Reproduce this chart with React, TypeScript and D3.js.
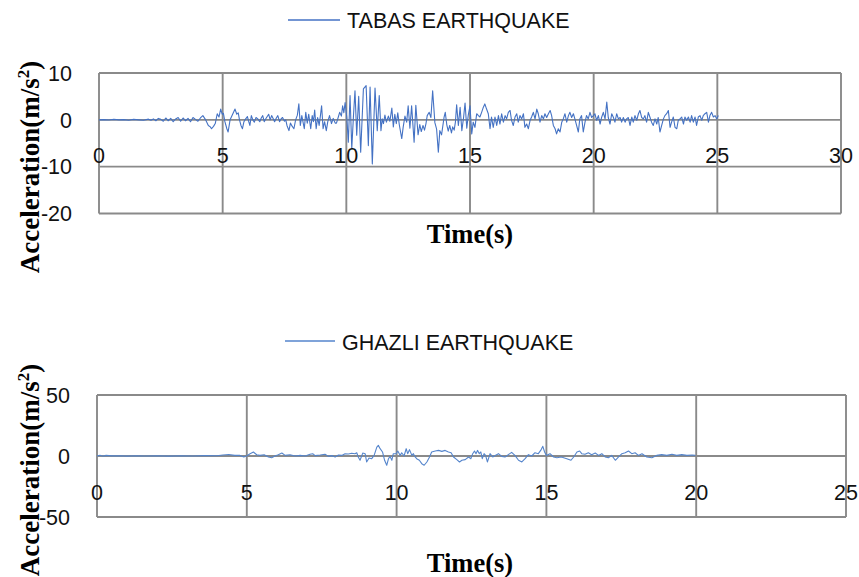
import React from "react";
import * as d3 from "d3";

// ---------- DATA ----------
const tabasLabel = "TABAS EARTHQUAKE";
const ghazliLabel = "GHAZLI EARTHQUAKE";

const tabasXTicks = [0, 5, 10, 15, 20, 25, 30];
const tabasYTicks = [10, 0, -10, -20];
const ghazliXTicks = [0, 5, 10, 15, 20, 25];
const ghazliYTicks = [50, 0, -50];

// [time (s), acceleration (m/s^2)]
const tabasSeries: [number, number][] = [
  [0,0],[0.2,0.05],[0.4,-0.05],[0.6,0.1],[0.8,0],[1.0,0.05],[1.2,-0.1],[1.4,0.1],[1.6,0],[1.8,-0.1],[2.0,0.15],
  [2.1,-0.1],[2.2,0.2],[2.3,-0.2],[2.4,0.3],[2.5,0.1],[2.6,-0.3],[2.7,0.4],[2.8,-0.2],[2.9,0.3],[3.0,-0.4],
  [3.1,0.2],[3.2,0.5],[3.3,-0.3],[3.4,0.4],[3.5,-0.2],[3.6,0.3],[3.7,-0.4],[3.8,0.5],[3.9,0.1],[4.0,-0.3],
  [4.1,0.4],[4.2,0.9],[4.3,0.1],[4.42,-1.2],[4.5,-1.5],[4.55,-1.9],[4.63,-1.4],[4.7,-0.8],[4.78,1.3],[4.85,0.6],
  [4.92,2.3],[4.98,1.2],[5.03,1.4],[5.09,-0.4],[5.17,-1.9],[5.22,-2.6],[5.3,0],[5.37,0.8],[5.44,1.6],[5.5,2.3],
  [5.57,1.2],[5.63,1.5],[5.68,0],[5.74,-1.2],[5.8,-1.9],[5.86,-0.4],[5.93,0.2],[6.0,0.7],[6.05,-0.3],[6.1,-1.2],
  [6.16,0.9],[6.22,0],[6.28,-0.5],[6.35,0.5],[6.42,0.2],[6.5,-0.4],[6.56,0.4],[6.62,0.9],[6.68,-0.4],[6.75,0.3],
  [6.86,1.2],[6.92,0],[6.98,0.9],[7.04,0.3],[7.1,-0.4],[7.17,0.4],[7.23,0.9],[7.3,-0.4],[7.36,0.2],[7.42,0.5],
  [7.5,-0.3],[7.55,0],[7.6,-1.2],[7.68,-2.3],[7.74,-0.7],[7.8,-1.3],[7.88,-1.9],[7.95,0],[8.02,1.0],[8.08,3.4],
  [8.14,-1.2],[8.2,0.9],[8.25,-0.5],[8.3,-1.9],[8.36,1.6],[8.42,-0.7],[8.48,1.2],[8.56,-1.9],[8.62,0.9],[8.67,-0.4],
  [8.72,2.1],[8.78,-1.9],[8.84,0.5],[8.9,-1.2],[8.95,0.8],[9.0,3.0],[9.06,-1.9],[9.12,-0.4],[9.19,-2.3],[9.25,-0.4],
  [9.32,0.9],[9.4,-0.8],[9.47,0.3],[9.55,-0.7],[9.6,-0.7],[9.67,0.5],[9.73,1.6],[9.8,0.8],[9.85,3.0],[9.9,1.5],
  [9.95,3.7],[10.02,0.5],[10.08,-4.8],[10.15,5.2],[10.22,-6.1],[10.29,1.0],[10.35,6.2],[10.42,-3.3],[10.5,5.0],
  [10.58,-6.9],[10.69,6.6],[10.8,7.3],[10.89,-5.5],[10.96,7.0],[11.05,-9.4],[11.16,6.8],[11.25,-2.3],[11.33,5.2],
  [11.4,-2.3],[11.45,0.2],[11.5,-0.8],[11.56,1.0],[11.62,-0.5],[11.7,0.8],[11.76,-0.3],[11.84,2.5],[11.9,-1.5],
  [11.96,1.2],[12.02,-0.8],[12.08,1.5],[12.14,-1.0],[12.24,-4.0],[12.3,-1.5],[12.37,0.8],[12.44,-0.5],[12.5,3.0],
  [12.57,-1.8],[12.64,3.0],[12.74,-4.8],[12.81,3.1],[12.9,-3.2],[12.97,-1.0],[13.03,-2.5],[13.1,-1.2],[13.16,-2.2],
  [13.22,-0.8],[13.27,0.9],[13.35,1.6],[13.42,0.5],[13.49,6.2],[13.58,-0.6],[13.65,-2.0],[13.72,-6.9],[13.78,-2.3],
  [13.85,-3.2],[13.95,0.5],[14.0,1.6],[14.06,-1.0],[14.12,-2.4],[14.18,-1.2],[14.25,-2.8],[14.3,-1.5],[14.36,-2.2],
  [14.41,-0.5],[14.46,3.2],[14.53,-1.2],[14.6,2.7],[14.67,-2.3],[14.74,0.5],[14.8,3.6],[14.87,-1.8],[14.93,1.0],
  [15.0,3.0],[15.07,-3.0],[15.13,-0.5],[15.2,-1.6],[15.27,1.3],[15.34,0.9],[15.4,0.6],[15.47,1.6],[15.54,2.7],
  [15.6,3.4],[15.67,2.3],[15.74,1.3],[15.81,-1.9],[15.87,0.6],[15.94,-1.6],[16.01,0.6],[16.08,-1.2],[16.15,0.9],
  [16.21,-0.9],[16.28,1.3],[16.35,-0.5],[16.42,0.9],[16.48,0.2],[16.55,1.6],[16.62,2.0],[16.68,-0.1],[16.75,-1.2],
  [16.82,0.6],[16.89,1.3],[16.95,-0.5],[17.02,0.9],[17.09,0.2],[17.16,1.3],[17.22,-1.6],[17.29,-0.9],[17.36,-1.9],
  [17.43,-0.1],[17.49,0.6],[17.56,1.6],[17.63,0.2],[17.7,2.3],[17.76,1.3],[17.83,-0.5],[17.9,0.9],[17.97,0.2],
  [18.03,1.3],[18.1,0.5],[18.17,1.3],[18.24,2.0],[18.3,0.9],[18.37,-1.2],[18.44,-1.9],[18.5,-3.0],[18.57,-1.9],
  [18.64,-2.6],[18.71,-0.5],[18.77,0.2],[18.84,1.3],[18.91,-0.5],[18.98,0.9],[19.04,1.6],[19.11,0.5],[19.18,1.3],
  [19.24,0.2],[19.31,-1.2],[19.38,-2.6],[19.44,0.2],[19.51,0.9],[19.58,-2.6],[19.65,-0.5],[19.71,0.9],[19.78,0.2],
  [19.85,1.6],[19.92,0.5],[19.99,0.9],[20.05,1.3],[20.12,-0.1],[20.19,0.9],[20.26,-0.9],[20.32,0.5],[20.39,1.6],
  [20.46,0.2],[20.53,3.8],[20.59,0.5],[20.66,-0.9],[20.73,1.3],[20.8,0.5],[20.86,-0.5],[20.93,1.3],[21.0,0.2],
  [21.07,0.5],[21.13,-0.5],[21.2,0.5],[21.27,-0.5],[21.33,0.2],[21.4,0.5],[21.47,-1.2],[21.54,0.6],[21.6,-0.5],
  [21.67,0.9],[21.74,-0.1],[21.81,1.3],[21.87,2.0],[21.94,0.5],[22.01,0.2],[22.07,0.9],[22.14,-0.5],[22.21,1.6],
  [22.28,0.5],[22.34,-0.5],[22.41,-1.2],[22.48,0.2],[22.55,-0.9],[22.61,0.5],[22.68,-2.6],[22.75,-1.2],[22.82,0.2],
  [22.88,0.9],[22.95,1.3],[23.02,2.0],[23.09,-1.6],[23.15,-0.5],[23.22,0.6],[23.29,-1.6],[23.36,-1.9],[23.42,-0.1],
  [23.49,0.2],[23.56,0.6],[23.63,-0.9],[23.69,0.6],[23.76,-0.1],[23.83,0.6],[23.9,-0.5],[23.96,0.9],[24.03,-0.5],
  [24.1,0.6],[24.16,-1.2],[24.23,0.6],[24.3,0.9],[24.37,-0.1],[24.43,0.9],[24.5,1.3],[24.57,1.6],[24.64,-0.5],
  [24.7,0.9],[24.77,1.6],[24.84,0.6],[24.91,0.9],[24.97,0.2],[25.04,0.9]
];

const ghazliSeries: [number, number][] = [
  [0,0],[0.1,0.6],[0.2,-0.2],[0.3,0.5],[0.5,0.1],[0.8,0.2],[1.0,-0.1],[1.3,0.2],[1.6,0],[2.0,0.2],[2.4,-0.1],
  [2.8,0.2],[3.2,0],[3.6,0.3],[4.0,0.2],[4.2,0.8],[4.4,1.2],[4.6,0.5],[4.77,0.5],[4.9,-0.8],[5.0,0.2],[5.11,1.9],
  [5.22,3.3],[5.33,1.0],[5.44,0.5],[5.58,1.0],[5.72,-0.8],[5.83,-1.4],[5.94,0],[6.05,1.0],[6.17,2.4],[6.28,0.5],
  [6.44,1.0],[6.61,0],[6.78,0.5],[6.95,0],[7.11,1.4],[7.2,1.9],[7.28,0.3],[7.45,0.8],[7.61,1.4],[7.73,-0.3],
  [7.84,0.3],[7.95,-0.8],[8.06,0.8],[8.17,0.5],[8.28,1.9],[8.39,1.6],[8.5,2.2],[8.61,1.9],[8.67,2.7],[8.72,-0.8],
  [8.78,-3.5],[8.87,2.4],[8.95,1.9],[9.0,-4.9],[9.08,-1.6],[9.17,-2.2],[9.25,0.5],[9.34,7.3],[9.39,8.7],[9.45,6.0],
  [9.53,3.3],[9.6,-3.5],[9.67,-7.6],[9.73,-2.2],[9.78,-0.3],[9.84,-3.5],[9.89,1.9],[9.98,1.9],[10.04,4.1],
  [10.12,0.5],[10.17,2.7],[10.25,0],[10.32,6.0],[10.37,1.9],[10.43,5.2],[10.51,0.5],[10.56,1.9],[10.62,-0.8],
  [10.67,-2.2],[10.76,-3.5],[10.84,-6.3],[10.92,-7.6],[11.01,-4.9],[11.1,-0.8],[11.17,3.3],[11.29,4.1],[11.4,4.6],
  [11.51,3.8],[11.62,4.6],[11.73,3.3],[11.82,2.7],[11.9,-0.8],[12.01,-3.0],[12.1,-4.9],[12.18,-3.5],[12.29,-3.0],
  [12.4,-0.8],[12.48,-2.2],[12.54,1.9],[12.6,4.1],[12.65,1.9],[12.7,4.6],[12.76,1.9],[12.81,3.3],[12.86,-2.2],
  [12.92,1.9],[12.97,0.5],[13.03,-4.9],[13.12,1.9],[13.21,-0.8],[13.29,0.5],[13.4,1.9],[13.51,-0.3],[13.62,-0.8],
  [13.73,1.1],[13.84,3.0],[13.95,0.5],[14.07,-3.5],[14.18,-4.9],[14.29,-2.2],[14.4,1.1],[14.51,0],[14.62,2.7],
  [14.73,1.9],[14.81,4.6],[14.88,7.9],[14.94,3.3],[15.0,0.5],[15.12,1.9],[15.24,-0.8],[15.35,-1.4],[15.5,-0.8],
  [15.68,-2.2],[15.82,-3.5],[15.91,-0.8],[16.02,3.3],[16.11,4.1],[16.18,1.9],[16.29,1.4],[16.4,2.7],[16.51,1.1],
  [16.63,2.4],[16.74,0.5],[16.85,1.9],[16.96,-0.8],[17.07,-1.4],[17.18,0.5],[17.3,-3.5],[17.41,-0.8],[17.52,1.9],
  [17.63,2.7],[17.74,4.1],[17.85,1.9],[17.96,2.7],[18.07,0.5],[18.19,1.9],[18.35,-0.8],[18.52,-1.4],[18.68,0.5],
  [18.85,1.1],[19.02,0.5],[19.19,1.4],[19.35,0.5],[19.52,1.1],[19.69,0.5],[19.86,0.8],[19.97,0.5]
];

// ---------- STYLE ----------
const GRID = "#8a8a8a";
const SANS = "'Liberation Sans', Arial, sans-serif";
const SERIF = "'Liberation Serif', 'Times New Roman', serif";

type ChartProps = {
  series: [number, number][];
  label: string;
  color: string;
  xTicks: number[];
  yTicks: number[];
  left: number; right: number; top: number; bottom: number;
  legendLine: [number, number, number];
  legendText: [number, number];
  xLabelBaseline: number;
  yTitleY: number;
  xTitleY: number;
};

function Chart(p: ChartProps) {
  const xs = d3.scaleLinear()
    .domain([d3.min(p.xTicks)!, d3.max(p.xTicks)!])
    .range([p.left, p.right]);
  const ys = d3.scaleLinear()
    .domain([d3.min(p.yTicks)!, d3.max(p.yTicks)!])
    .range([p.bottom, p.top]);
  const line = d3.line<[number, number]>()
    .x(d => xs(d[0]))
    .y(d => ys(d[1]));
  return (
    <g>
      {/* legend */}
      <line x1={p.legendLine[0]} x2={p.legendLine[1]} y1={p.legendLine[2]} y2={p.legendLine[2]}
        stroke={p.color} strokeWidth={1.3} />
      <text x={p.legendText[0]} y={p.legendText[1]} fontFamily={SANS} fontSize={21.5} fill="#111">{p.label}</text>
      {/* grid */}
      {p.yTicks.map(t => (
        <line key={"h" + t} x1={p.left} x2={p.right} y1={ys(t)} y2={ys(t)} stroke={GRID} strokeWidth={1.9} />
      ))}
      {p.xTicks.map(t => (
        <line key={"v" + t} x1={xs(t)} x2={xs(t)} y1={p.top} y2={p.bottom} stroke={GRID} strokeWidth={1.9} />
      ))}
      {/* series */}
      <path d={line(p.series) || ""} fill="none" stroke={p.color} strokeWidth={1.1} strokeLinejoin="round" />
      {/* tick labels */}
      {p.yTicks.map(t => (
        <text key={"yl" + t} x={p.left - 27} y={ys(t)} dy="0.36em" textAnchor="end"
          fontFamily={SANS} fontSize={21.5} fill="#111">{t}</text>
      ))}
      {p.xTicks.map(t => (
        <text key={"xl" + t} x={xs(t)} y={p.xLabelBaseline} textAnchor="middle"
          fontFamily={SANS} fontSize={21.5} fill="#111">{t}</text>
      ))}
      {/* axis titles */}
      <text x={470} y={p.xTitleY} textAnchor="middle" fontFamily={SERIF} fontWeight="bold" fontSize={26.5} fill="#000">Time(s)</text>
      <text transform={`translate(39,${p.yTitleY}) rotate(-90)`} textAnchor="middle" fontFamily={SERIF}
        fontWeight="bold" fontSize={27} fill="#000">
        Acceleration(m/s<tspan fontSize={17} dy={-10}>2</tspan><tspan dy={10}>)</tspan>
      </text>
    </g>
  );
}

export default function App() {
  return (
    <svg width={859} height={577} style={{ position: "absolute", left: 0, top: 0, background: "#fff" }}>
      <rect x={0} y={0} width={859} height={577} fill="#fff" />
      <Chart series={tabasSeries} label={tabasLabel} color="#4472C4"
        xTicks={tabasXTicks} yTicks={tabasYTicks}
        left={99} right={841} top={73} bottom={213.5}
        legendLine={[288, 340, 20]} legendText={[347, 28]}
        xLabelBaseline={163} yTitleY={167} xTitleY={243} />
      <Chart series={ghazliSeries} label={ghazliLabel} color="#5585CC"
        xTicks={ghazliXTicks} yTicks={ghazliYTicks}
        left={97} right={846} top={395} bottom={517}
        legendLine={[285, 335, 341]} legendText={[342, 349.5]}
        xLabelBaseline={500} yTitleY={470} xTitleY={572} />
    </svg>
  );
}
